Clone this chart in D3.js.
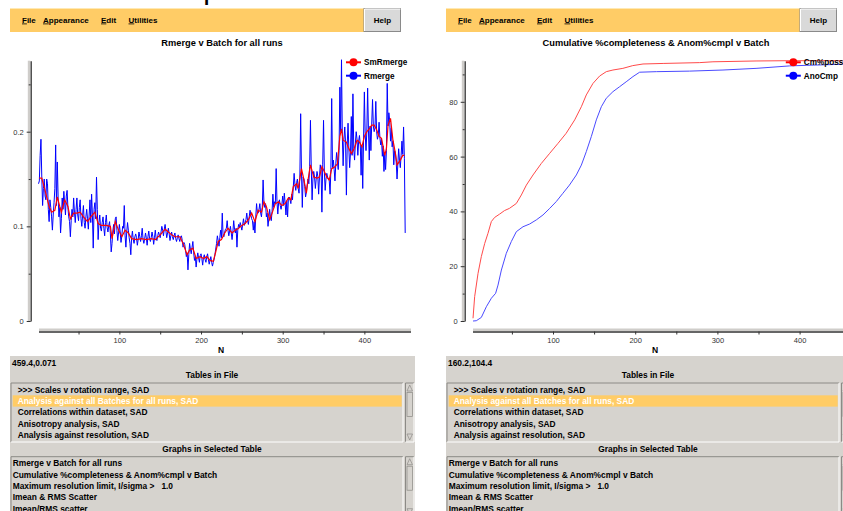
<!DOCTYPE html>
<html>
<head>
<meta charset="utf-8">
<script src="https://cdn.jsdelivr.net/npm/d3@7"></script>
<style>
  body { margin: 0; background: #fff; }
  text { font-family: "Liberation Sans", Arial, Helvetica, sans-serif; }
</style>
</head>
<body>
<div id="chart"></div>
<script>
// Rmerge per batch, batches 1..450 (10 per row)
var rmBatch = d3.range(1, 451);
var rmerge = [
  0.145, 0.148, 0.175, 0.192, 0.152, 0.122, 0.140, 0.150, 0.132, 0.128,
  0.150, 0.145, 0.118, 0.105, 0.128, 0.120, 0.110, 0.096, 0.112, 0.125,
  0.140, 0.186, 0.122, 0.168, 0.131, 0.110, 0.120, 0.093, 0.108, 0.130,
  0.118, 0.137, 0.125, 0.112, 0.132, 0.138, 0.120, 0.110, 0.105, 0.089,
  0.106, 0.118, 0.110, 0.130, 0.115, 0.104, 0.118, 0.130, 0.112, 0.106,
  0.120, 0.128, 0.108, 0.100, 0.112, 0.122, 0.104, 0.098, 0.110, 0.118,
  0.108, 0.097, 0.112, 0.128, 0.104, 0.134, 0.112, 0.077, 0.118, 0.125,
  0.108, 0.152, 0.118, 0.086, 0.104, 0.112, 0.098, 0.095, 0.104, 0.110,
  0.098, 0.090, 0.104, 0.112, 0.099, 0.094, 0.101, 0.105, 0.092, 0.073,
  0.082, 0.095, 0.102, 0.092, 0.108, 0.110, 0.096, 0.085, 0.093, 0.102,
  0.094, 0.083, 0.090, 0.100, 0.098, 0.122, 0.090, 0.078, 0.094, 0.104,
  0.096, 0.088, 0.082, 0.070, 0.088, 0.095, 0.086, 0.082, 0.089, 0.092,
  0.088, 0.080, 0.086, 0.094, 0.089, 0.084, 0.090, 0.098, 0.086, 0.082,
  0.087, 0.093, 0.088, 0.080, 0.089, 0.095, 0.087, 0.084, 0.088, 0.094,
  0.089, 0.081, 0.088, 0.096, 0.087, 0.085, 0.090, 0.094, 0.091, 0.088,
  0.094, 0.100, 0.096, 0.090, 0.097, 0.102, 0.095, 0.088, 0.093, 0.098,
  0.092, 0.085, 0.090, 0.094, 0.089, 0.086, 0.090, 0.093, 0.087, 0.084,
  0.088, 0.091, 0.087, 0.084, 0.089, 0.090, 0.085, 0.078, 0.083, 0.081,
  0.075, 0.068, 0.072, 0.054, 0.070, 0.082, 0.076, 0.071, 0.078, 0.084,
  0.072, 0.064, 0.068, 0.057, 0.066, 0.072, 0.067, 0.062, 0.069, 0.071,
  0.066, 0.059, 0.067, 0.070, 0.065, 0.062, 0.068, 0.071, 0.065, 0.060,
  0.064, 0.068, 0.062, 0.058, 0.062, 0.065, 0.070, 0.076, 0.082, 0.090,
  0.085, 0.079, 0.088, 0.096, 0.088, 0.114, 0.090, 0.089, 0.094, 0.097,
  0.098, 0.106, 0.096, 0.090, 0.095, 0.100, 0.093, 0.086, 0.094, 0.106,
  0.097, 0.093, 0.098, 0.078, 0.096, 0.102, 0.099, 0.104, 0.100, 0.096,
  0.102, 0.108, 0.101, 0.104, 0.107, 0.114, 0.106, 0.102, 0.110, 0.117,
  0.112, 0.108, 0.106, 0.096, 0.105, 0.093, 0.110, 0.124, 0.114, 0.114,
  0.118, 0.124, 0.114, 0.110, 0.120, 0.149, 0.126, 0.120, 0.124, 0.110,
  0.114, 0.100, 0.108, 0.118, 0.110, 0.106, 0.116, 0.134, 0.120, 0.126,
  0.124, 0.161, 0.126, 0.113, 0.125, 0.128, 0.122, 0.118, 0.123, 0.132,
  0.122, 0.135, 0.124, 0.112, 0.127, 0.110, 0.130, 0.131, 0.128, 0.124,
  0.134, 0.128, 0.142, 0.156, 0.144, 0.138, 0.146, 0.150, 0.140, 0.135,
  0.152, 0.219, 0.158, 0.120, 0.152, 0.150, 0.142, 0.131, 0.136, 0.144,
  0.150, 0.145, 0.163, 0.212, 0.160, 0.128, 0.150, 0.158, 0.152, 0.140,
  0.150, 0.158, 0.153, 0.134, 0.152, 0.165, 0.160, 0.115, 0.165, 0.212,
  0.158, 0.138, 0.150, 0.156, 0.152, 0.150, 0.148, 0.134, 0.160, 0.235,
  0.162, 0.170, 0.160, 0.148, 0.166, 0.178, 0.168, 0.160, 0.180, 0.247,
  0.200, 0.276, 0.195, 0.164, 0.192, 0.205, 0.188, 0.133, 0.186, 0.209,
  0.182, 0.162, 0.178, 0.216, 0.175, 0.240, 0.182, 0.170, 0.188, 0.200,
  0.192, 0.175, 0.190, 0.196, 0.186, 0.154, 0.185, 0.140, 0.192, 0.242,
  0.198, 0.180, 0.200, 0.246, 0.202, 0.170, 0.206, 0.180, 0.208, 0.234,
  0.206, 0.200, 0.204, 0.232, 0.200, 0.192, 0.196, 0.210, 0.194, 0.186,
  0.192, 0.174, 0.185, 0.158, 0.176, 0.160, 0.180, 0.251, 0.206, 0.220,
  0.212, 0.190, 0.204, 0.184, 0.190, 0.165, 0.180, 0.178, 0.168, 0.150,
  0.166, 0.182, 0.170, 0.162, 0.175, 0.190, 0.176, 0.205, 0.172, 0.093
];

// smoothed Rmerge
var smBatch = [2, 5, 9, 14, 17, 21, 24, 27, 29, 33, 37, 40, 44, 48, 52, 56, 61, 65, 70, 74,
  78, 84, 89, 91, 95, 99, 103, 107, 111, 115, 121, 127, 133, 139, 144, 150, 156, 160, 164, 168,
  174, 178, 180, 183, 186, 190, 194, 199, 203, 207, 211, 215, 218, 221, 225, 229, 233, 238, 242, 246,
  250, 254, 258, 262, 266, 270, 274, 277, 280, 284, 287, 291, 295, 299, 303, 307, 310, 313, 317, 319,
  323, 326, 329, 331, 334, 338, 342, 345, 348, 351, 354, 357, 360, 364, 367, 370, 372, 374, 378, 380,
  384, 387, 391, 394, 397, 400, 403, 406, 409, 412, 415, 418, 421, 425, 427, 429, 432, 435, 438, 440,
  444, 447, 449];
var smRmerge = [0.151, 0.151, 0.138, 0.121, 0.115, 0.117, 0.131, 0.121, 0.115, 0.128, 0.121, 0.108, 0.114, 0.114, 0.115, 0.110, 0.105, 0.110, 0.115, 0.103,
  0.101, 0.101, 0.100, 0.087, 0.105, 0.096, 0.089, 0.096, 0.093, 0.087, 0.086, 0.087, 0.086, 0.087, 0.086, 0.091, 0.097, 0.094, 0.091, 0.089,
  0.089, 0.082, 0.077, 0.070, 0.075, 0.077, 0.066, 0.068, 0.066, 0.068, 0.064, 0.063, 0.073, 0.084, 0.086, 0.093, 0.098, 0.093, 0.096, 0.098,
  0.101, 0.103, 0.107, 0.114, 0.105, 0.117, 0.115, 0.126, 0.121, 0.107, 0.114, 0.124, 0.126, 0.122, 0.124, 0.130, 0.128, 0.142, 0.145, 0.140,
  0.161, 0.149, 0.135, 0.149, 0.165, 0.152, 0.151, 0.152, 0.163, 0.158, 0.152, 0.149, 0.161, 0.163, 0.166, 0.195, 0.203, 0.191, 0.189, 0.184,
  0.177, 0.181, 0.191, 0.189, 0.184, 0.195, 0.200, 0.203, 0.207, 0.207, 0.202, 0.195, 0.193, 0.175, 0.182, 0.207, 0.214, 0.191, 0.177, 0.165,
  0.170, 0.175, 0.175];

// cumulative completeness (right graph)
var cmBatch = [2.7, 4.7, 8.8, 12.8, 16.9, 20.9, 25, 29, 35, 41, 47, 55.4, 61.5, 67.6, 75.7, 85.8, 96, 106, 116, 126.4,
  134.5, 140.5, 148.6, 156.7, 164.8, 172.9, 185, 197, 209.5, 234, 278.5, 294.6, 347, 387.9, 452];
var cmPoss = [1.0, 8.9, 17.4, 23.5, 28.3, 32.0, 36.3, 37.8, 39.0, 40.3, 41.1, 42.9, 46.0, 49.6, 53.3, 57.5, 61.2, 64.8, 68.5, 73.4,
  78.2, 82.5, 86.7, 89.4, 91.0, 91.6, 92.2, 93.2, 93.8, 94.0, 94.3, 94.6, 94.9, 95.0, 95.0];
var anoBatch = [2.7, 6.7, 12.8, 18.9, 25, 30.2, 33.1, 37.2, 43.2, 49.3, 55.4, 63.5, 71.6, 79.7, 87.8, 96, 104, 112, 120, 128.4,
  134.5, 140.5, 146.6, 152.7, 158.8, 164.8, 172.9, 181, 189, 197.3, 205.4, 225.7, 266, 306.8, 347, 387.9, 408, 452];
var anoCmp = [0.0, 0.1, 1.3, 5.2, 8.3, 10.1, 13.1, 18.6, 24.7, 29.0, 32.6, 34.4, 35.4, 36.9, 38.7, 41.1, 43.6, 46.6, 49.6, 53.3,
  56.9, 61.8, 67.3, 73.4, 78.2, 81.3, 83.7, 85.5, 87.3, 89.2, 90.8, 91.0, 91.2, 91.6, 92.2, 93.1, 93.3, 93.7];

var menuItems = ["File", "Appearance", "Edit", "Utilities"];
var menuX = [12, 33, 91, 118.5];
var tableList = [">>> Scales v rotation range, SAD", "Analysis against all Batches for all runs, SAD",
  "Correlations within dataset, SAD", "Anisotropy analysis, SAD", "Analysis against resolution, SAD"];
var graphList = ["Rmerge v Batch for all runs", "Cumulative %completeness & Anom%cmpl v Batch",
  "Maximum resolution limit, I/sigma >   1.0", "Imean & RMS Scatter", "Imean/RMS scatter"];

var panelGrey = "#d6d3ce";
var yellow = "#ffcc66";

var svg = d3.select("#chart").append("svg")
  .attr("width", 843)
  .attr("height", 511);

// slide heading, mostly cut off above the picture
svg.append("text")
  .attr("x", 310).attr("y", -1.5)
  .attr("text-anchor", "end")
  .attr("font-size", 30)
  .text("Overview of the sample data");

function drawWindow(dx, coordText) {
  var g = svg.append("g").attr("transform", `translate(${dx},0)`);

  // menu bar
  g.append("rect").attr("x", 10).attr("y", 8).attr("width", 364).attr("height", 24).attr("fill", yellow);
  g.append("line").attr("x1", 10).attr("x2", 374).attr("y1", 8.5).attr("y2", 8.5).attr("stroke", "#ffe9b3");
  menuItems.forEach(function(m, i) {
    var t = g.append("text").attr("x", menuX[i] + 10).attr("y", 22.5)
      .attr("font-size", 8).attr("font-weight", "bold");
    t.append("tspan").style("text-decoration", "underline").text(m[0]);
    t.append("tspan").text(m.slice(1));
  });
  // help button
  g.append("rect").attr("x", 364).attr("y", 8.5).attr("width", 36.5).attr("height", 23)
    .attr("fill", "#d9d9d9").attr("stroke", "#8a8a8a");
  g.append("path").attr("d", "M364.5,31 V9 H400.5").attr("fill", "none").attr("stroke", "#fff");
  g.append("text").attr("x", 382.5).attr("y", 22.5).attr("text-anchor", "middle")
    .attr("font-size", 8).attr("font-weight", "bold").text("Help");

  // lower control panel
  g.append("rect").attr("x", 10).attr("y", 356).attr("width", 405).attr("height", 155).attr("fill", panelGrey);
  g.append("text").attr("x", 12).attr("y", 365.7).attr("font-size", 8.4).attr("font-weight", "bold").text(coordText);
  g.append("text").attr("x", 212).attr("y", 377.7).attr("text-anchor", "middle")
    .attr("font-size", 8.4).attr("font-weight", "bold").text("Tables in File");
  g.append("text").attr("x", 212).attr("y", 452).attr("text-anchor", "middle")
    .attr("font-size", 8.4).attr("font-weight", "bold").text("Graphs in Selected Table");

  listBox(g, 383, 59, tableList, 17.7, 1);
  listBox(g, 456.7, 60, graphList, 12.7, -1);
}

function sunken(g, x, y, w, h) {
  g.append("path").attr("d", `M${x},${y + h} V${y} H${x + w}`).attr("fill", "none").attr("stroke", "#8c8a86");
  g.append("path").attr("d", `M${x + w},${y} V${y + h} H${x}`).attr("fill", "none").attr("stroke", "#fff");
}

function listBox(g, top, h, rows, textX, selected) {
  sunken(g, 11, top, 392, h);
  rows.forEach(function(r, i) {
    var base = top + 9.7 + i * 11.33;
    if (i === selected) {
      g.append("rect").attr("x", 12.7).attr("y", base - 8.7).attr("width", 389).attr("height", 11.3).attr("fill", yellow);
    }
    g.append("text").attr("x", textX).attr("y", base)
      .attr("font-size", 8.4).attr("font-weight", "bold")
      .style("white-space", "pre")
      .attr("fill", i === selected ? "#fff" : "#000")
      .text(r);
  });
  // scrollbar
  sunken(g, 405.5, top, 8.5, h);
  g.append("path").attr("d", `M407,${top + 8} L409.7,${top + 2} L412.5,${top + 8} Z`)
    .attr("fill", panelGrey).attr("stroke", "#8c8a86").attr("stroke-width", 0.7);
  g.append("rect").attr("x", 407).attr("y", top + 9.5).attr("width", 5.5).attr("height", 24)
    .attr("fill", panelGrey).attr("stroke", "#8c8a86").attr("stroke-width", 0.7);
  g.append("path").attr("d", `M407,${top + h - 8} L409.7,${top + h - 2} L412.5,${top + h - 8} Z`)
    .attr("fill", panelGrey).attr("stroke", "#8c8a86").attr("stroke-width", 0.7);
}

function drawGraph(dx, opt) {
  var g = svg.append("g").attr("transform", `translate(${dx},0)`);

  var x = d3.scaleLinear().domain([0, 450]).range(opt.xRange);
  var y = d3.scaleLinear().domain([0, opt.yMax]).range([321, 60.7]);

  g.append("text").attr("x", 222).attr("y", 46).attr("text-anchor", "middle")
    .attr("font-size", 9.3).attr("font-weight", "bold").text(opt.title);

  // x axis
  g.append("rect").attr("x", 39).attr("y", 328.5).attr("width", 372).attr("height", 2.5).attr("fill", "#cfcdca");
  var xAxis = g.append("g").attr("transform", "translate(0,331.5)")
    .call(d3.axisBottom(x).tickValues([100, 200, 300, 400]).tickSize(3).tickSizeOuter(0));
  g.append("g").attr("transform", "translate(0,331.5)")
    .call(d3.axisBottom(x).tickValues([50, 150, 250, 350]).tickSize(3).tickFormat(""))
    .select(".domain").remove();
  xAxis.select(".domain").attr("d", "M39,0.5H411");
  g.append("text").attr("x", 221).attr("y", 352.5).attr("text-anchor", "middle")
    .attr("font-size", 8.5).attr("font-weight", "bold").text("N");

  // y axis
  g.append("rect").attr("x", 27.8).attr("y", 60.7).attr("width", 2.5).attr("height", 261).attr("fill", "#cfcdca");
  var yAxis = g.append("g").attr("transform", "translate(30.7,0)")
    .call(d3.axisLeft(y).tickValues(opt.yTicks).tickSize(4).tickSizeOuter(0).tickFormat(d => String(d)));
  g.append("g").attr("transform", "translate(30.7,0)")
    .call(d3.axisLeft(y).tickValues(opt.yMinor).tickSize(2).tickFormat(""))
    .select(".domain").remove();

  g.selectAll(".tick text").attr("font-size", 7.5).attr("fill", "#333")
    .style("font-family", '"Liberation Sans", Arial, sans-serif');
  g.selectAll(".tick line").attr("stroke", "#333");
  g.selectAll(".domain").attr("stroke", "#333").attr("stroke-width", 1.3);

  // series
  opt.series.forEach(function(s) {
    var pts = s.xs.map((d, i) => [d, s.ys[i]]);
    g.append("path").datum(pts)
      .attr("fill", "none")
      .attr("stroke", s.line)
      .attr("stroke-width", s.width)
      .attr("d", d3.line().x(d => x(d[0])).y(d => y(d[1])));
  });

  // legend, right aligned
  var leg = g.append("g");
  var labels = opt.series.slice().reverse();
  labels.forEach(function(s, i) {
    var ly = 62.3 + i * 13.4;
    var lx = opt.legendX;
    leg.append("line").attr("x1", lx - 7.5).attr("x2", lx + 7.5).attr("y1", ly).attr("y2", ly)
      .attr("stroke", s.key).attr("stroke-width", 2);
    leg.append("circle").attr("cx", lx).attr("cy", ly).attr("r", 4).attr("fill", s.key);
    leg.append("text").attr("x", lx + 10.5).attr("y", ly + 3)
      .attr("font-size", 8.2).attr("font-weight", "bold").text(s.name);
  });
}

drawWindow(0, "459.4,0.071");
drawWindow(436, "160.2,104.4");

drawGraph(0, {
  title: "Rmerge v Batch for all runs",
  xRange: [37.7, 405.2],
  yMax: 0.275,
  yTicks: [0, 0.1, 0.2],
  yMinor: [0.05, 0.15, 0.25],
  legendX: 353.5,
  series: [
    {name: "Rmerge", xs: rmBatch, ys: rmerge, line: "#0000ff", key: "#0000ff", width: 1},
    {name: "SmRmerge", xs: smBatch, ys: smRmerge, line: "#ff0000", key: "#ff0000", width: 1.2}
  ]
});

drawGraph(434, {
  title: "Cumulative %completeness & Anom%cmpl v Batch",
  xRange: [36.8, 406.7],
  yMax: 95,
  yTicks: [0, 20, 40, 60, 80],
  yMinor: [10, 30, 50, 70, 90],
  legendX: 359.3,
  series: [
    {name: "AnoCmp", xs: anoBatch, ys: anoCmp, line: "#4a4aff", key: "#0000ff", width: 1},
    {name: "Cm%poss", xs: cmBatch, ys: cmPoss, line: "#ff4a4a", key: "#ff0000", width: 1}
  ]
});
</script>
</body>
</html>
